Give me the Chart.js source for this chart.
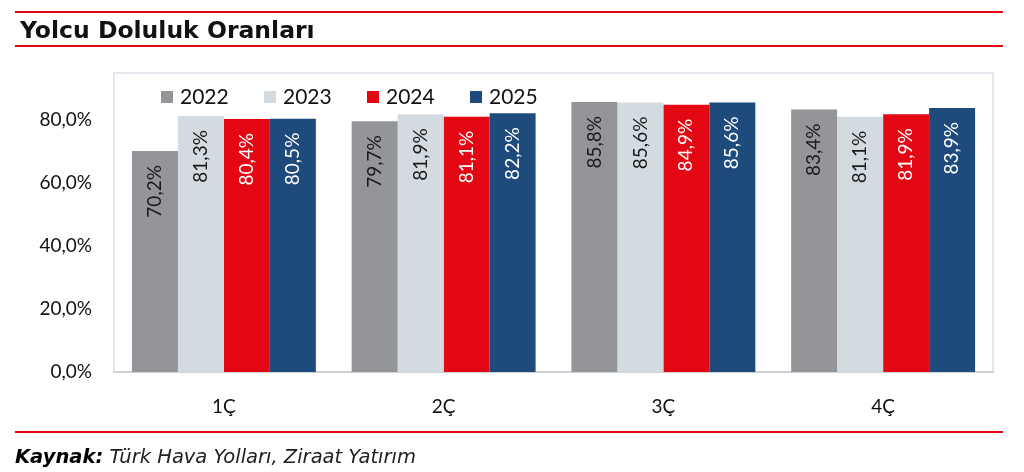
<!DOCTYPE html>
<html>
<head>
<meta charset="utf-8">
<script src="https://cdn.jsdelivr.net/npm/chart.js@4.4.1/dist/chart.umd.min.js"></script>
<style>
    html, body { margin: 0; padding: 0; background: #fff; }
    #sayfa { position: relative; width: 1024px; height: 472px; overflow: hidden; }
    #grafik { position: absolute; left: 0; top: 0; }
    .cizgi { position: absolute; left: 15px; width: 988px; height: 2px; background: #e30613; }
    #baslik { position: absolute; left: 20px; top: 16px; font: bold 23.5px "DejaVu Sans", Verdana, sans-serif; color: #111; white-space: nowrap; }
    #kaynak { position: absolute; left: 15px; top: 445px; font: italic 19.5px "DejaVu Sans", Verdana, sans-serif; color: #222; white-space: nowrap; }
    #kaynak b { font-weight: bold; color: #000; }
</style>
</head>
<body>
<div id="sayfa">
    <canvas id="grafik" width="1024" height="472"></canvas>
    <div class="cizgi" style="top:11px"></div>
    <div id="baslik">Yolcu Doluluk Oranları</div>
    <div class="cizgi" style="top:45px"></div>
    <div class="cizgi" style="top:431px"></div>
    <div id="kaynak"><b>Kaynak:</b> Türk Hava Yolları, Ziraat Yatırım</div>
</div>

<script>
// Yolcu doluluk oranları (%) - çeyreklik
const ceyrekler = ['1Ç', '2Ç', '3Ç', '4Ç'];
const yillar = ['2022', '2023', '2024', '2025'];

const oran2022 = [70.2, 79.7, 85.8, 83.4];
const oran2023 = [81.3, 81.9, 85.6, 81.1];
const oran2024 = [80.4, 81.1, 84.9, 81.9];
const oran2025 = [80.5, 82.2, 85.6, 83.9];

const eksenTikleri = [0, 20, 40, 60, 80];

const renkler = ['#939598', '#d3dbe1', '#e30613', '#1f4a7c'];
const etiketRenkleri = ['#1a1a1a', '#1a1a1a', '#ffffff', '#ffffff'];

const yaziTipi = 'Lato, "Open Sans", sans-serif';

function formatYuzde(deger) {
    return deger.toFixed(1).replace('.', ',') + '%';
}

// Çerçeve, efsane ve dikey değer etiketleri
const ekstraCizim = {
    id: 'ekstraCizim',
    beforeDatasetsDraw(chart) {
        const { ctx, chartArea } = chart;
        ctx.save();
        ctx.strokeStyle = '#d9e1e7';
        ctx.lineWidth = 1.5;
        ctx.strokeRect(chartArea.left, chartArea.top, chartArea.right - chartArea.left, chartArea.bottom - chartArea.top);
        ctx.restore();
    },
    afterDatasetsDraw(chart) {
        const { ctx, chartArea } = chart;
        ctx.save();

        // değer etiketleri
        ctx.font = '19px ' + yaziTipi;
        ctx.textAlign = 'right';
        ctx.textBaseline = 'middle';
        chart.data.datasets.forEach((ds, i) => {
            const meta = chart.getDatasetMeta(i);
            meta.data.forEach((bar, j) => {
                ctx.save();
                ctx.translate(bar.x, bar.y + 14);
                ctx.rotate(-Math.PI / 2);
                ctx.fillStyle = etiketRenkleri[i];
                ctx.fillText(formatYuzde(ds.data[j]), 0, 0);
                ctx.restore();
            });
        });

        // efsane
        ctx.font = '21px ' + yaziTipi;
        ctx.textAlign = 'left';
        ctx.textBaseline = 'middle';
        chart.data.datasets.forEach((ds, i) => {
            const x = chartArea.left + 47 + i * 103;
            const y = chartArea.top + 24;
            ctx.fillStyle = ds.backgroundColor;
            ctx.fillRect(x, y - 6, 12, 12);
            ctx.fillStyle = '#111';
            ctx.fillText(ds.label, x + 19, y);
        });

        ctx.restore();
    }
};

const verilerListesi = [oran2022, oran2023, oran2024, oran2025];

new Chart(document.getElementById('grafik').getContext('2d'), {
    type: 'bar',
    data: {
        labels: ceyrekler,
        datasets: yillar.map((yil, i) => ({
            label: yil,
            data: verilerListesi[i],
            backgroundColor: renkler[i],
            borderWidth: 0,
            categoryPercentage: 0.837,
            barPercentage: 1.0
        }))
    },
    options: {
        responsive: false,
        animation: false,
        layout: {
            padding: { top: 73, right: 31, bottom: 20, left: 0 }
        },
        plugins: {
            legend: { display: false },
            tooltip: { enabled: false }
        },
        scales: {
            x: {
                grid: { display: false },
                border: { display: true, color: '#a6a6a6', width: 2 },
                ticks: {
                    color: '#111',
                    padding: 15,
                    font: { family: yaziTipi, size: 19 }
                },
                afterFit(scale) { scale.height = 80; }
            },
            y: {
                min: 0,
                max: 95,
                grid: { display: false, drawTicks: false },
                border: { display: false },
                ticks: {
                    color: '#111',
                    padding: 22,
                    font: { family: yaziTipi, size: 19 },
                    callback: (deger) => formatYuzde(deger)
                },
                afterBuildTicks(scale) {
                    scale.ticks = eksenTikleri.map(v => ({ value: v }));
                },
                afterFit(scale) { scale.width = 114; }
            }
        }
    },
    plugins: [ekstraCizim]
});
</script>
</body>
</html>
